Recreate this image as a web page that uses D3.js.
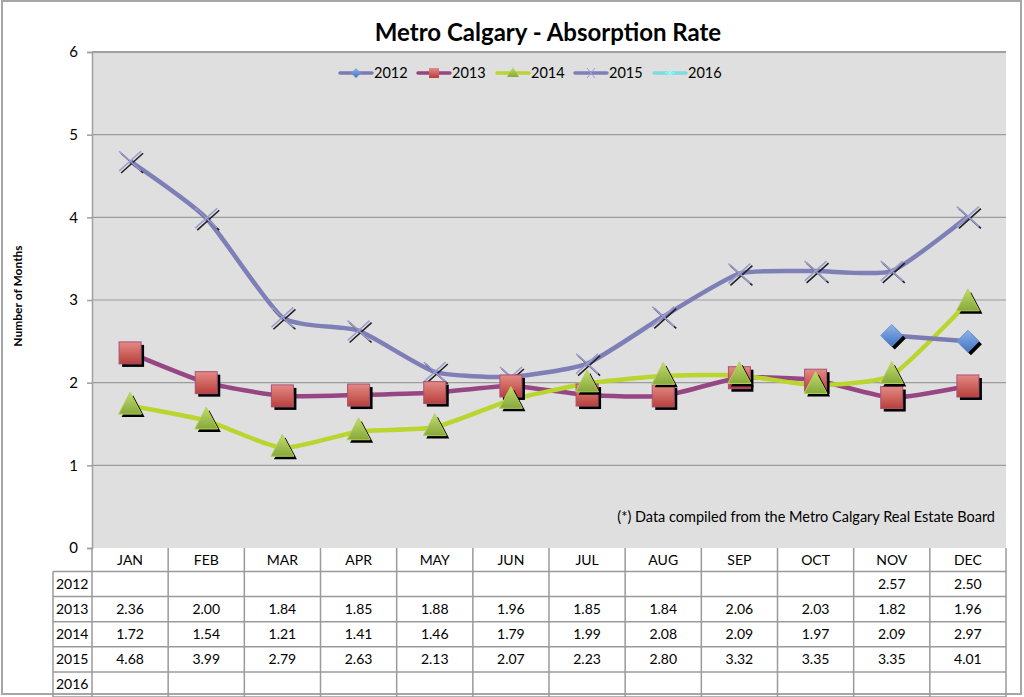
<!DOCTYPE html>
<html><head><meta charset="utf-8">
<script src="https://cdn.jsdelivr.net/npm/d3@7"></script>
<style>body{margin:0;background:#fff;} svg{display:block;font-family:Lato,"Open Sans",sans-serif;}</style>
</head><body>
<svg id="c" width="1024" height="697"></svg>
<script>
const months = ["JAN","FEB","MAR","APR","MAY","JUN","JUL","AUG","SEP","OCT","NOV","DEC"];
const years = ["2012","2013","2014","2015","2016"];
const v2012 = [null,null,null,null,null,null,null,null,null,null,2.57,2.50];
const v2013 = [2.36,2.00,1.84,1.85,1.88,1.96,1.85,1.84,2.06,2.03,1.82,1.96];
const v2014 = [1.72,1.54,1.21,1.41,1.46,1.79,1.99,2.08,2.09,1.97,2.09,2.97];
const v2015 = [4.68,3.99,2.79,2.63,2.13,2.07,2.23,2.80,3.32,3.35,3.35,4.01];
const v2016 = [null,null,null,null,null,null,null,null,null,null,null,null];
const yTicks = [0,1,2,3,4,5,6];
const title = "Metro Calgary - Absorption Rate";
const yLabel = "Number of Months";
const note = "(*) Data compiled from the Metro Calgary Real Estate Board";

const series = [
  {name:"2012", values:v2012, line:"#7b7bb3", marker:"diamond", fill:["#8fb4e8","#3f74c4"]},
  {name:"2013", values:v2013, line:"#964683", marker:"square", fill:["#e48a85","#b8403a"]},
  {name:"2014", values:v2014, line:"#b9d52e", marker:"triangle", fill:["#c2dc6c","#86a83c"]},
  {name:"2015", values:v2015, line:"#7f7fb8", marker:"x", fill:["#9a9ad0","#7f7fb8"]},
  {name:"2016", values:v2016, line:"#7fdcdc", marker:"star", fill:["#a0f0f0","#7fdcdc"]}
];

const svg = d3.select("#c");
const L = 92, R = 1006, T = 52, B = 548;
const x = d3.scaleBand().domain(months).range([L,R]);
const y = d3.scaleLinear().domain([0,6]).range([B,T]);

const defs = svg.append("defs");
series.forEach((s,i)=>{
  const g = defs.append("linearGradient").attr("id","g"+i).attr("x1",0).attr("y1",0).attr("x2",0).attr("y2",1);
  g.append("stop").attr("offset","0%").attr("stop-color",s.fill[0]);
  g.append("stop").attr("offset","100%").attr("stop-color",s.fill[1]);
});

// outer border
svg.append("rect").attr("x",2).attr("y",1).attr("width",1019).attr("height",693)
  .attr("fill","#fff").attr("stroke","#a6a6a6").attr("stroke-width",2);

// title
svg.append("text").attr("x",548).attr("y",41).attr("text-anchor","middle")
  .attr("font-size",24).attr("font-weight","bold").attr("fill","#000").text(title);

// plot background
svg.append("rect").attr("x",L).attr("y",T).attr("width",R-L).attr("height",B-T).attr("fill","#dfdfdf");

// gridlines
svg.append("g").selectAll("line").data(yTicks.filter(d=>d>0)).join("line")
  .attr("x1",L).attr("x2",R).attr("y1",d=>y(d)).attr("y2",d=>y(d))
  .attr("stroke",d=>d===6?"#a0a0a0":"#9c9c9c").attr("stroke-width",d=>d===6?2:1.2);

// y axis
const ya = svg.append("g").attr("transform",`translate(${L},0)`)
  .call(d3.axisLeft(y).tickValues(yTicks).tickSize(5).tickPadding(9).tickFormat(d3.format("d")));
ya.select(".domain").attr("stroke","#a0a0a0").attr("stroke-width",1.5);
ya.selectAll(".tick line").attr("stroke","#a0a0a0").attr("stroke-width",1.5);
ya.selectAll("text").attr("font-size",15).attr("fill","#000").attr("font-family","Lato,sans-serif");

svg.append("text").attr("transform","translate(22,296) rotate(-90)").attr("text-anchor","middle")
  .attr("font-size",12).attr("font-weight","bold").text(yLabel);

// note
svg.append("text").attr("x",995).attr("y",522).attr("text-anchor","end").attr("font-size",14.5).text(note);

// table
const rowH = 25.1, headTop = B, headH = 23.5;
const tg = svg.append("g");
const tableBottom = headTop + headH + rowH*years.length;
months.concat(["_end"]).forEach((m,i)=>{
  const xx = i<12 ? x(m) : R;
  tg.append("line").attr("x1",xx).attr("x2",xx).attr("y1",headTop).attr("y2",tableBottom)
    .attr("stroke","#9a9a9a").attr("stroke-width",1.5);
});
tg.append("line").attr("x1",53).attr("x2",53).attr("y1",headTop+headH).attr("y2",tableBottom).attr("stroke","#9a9a9a").attr("stroke-width",1.5);
for(let r=0;r<=years.length;r++){
  const yy = headTop+headH+r*rowH;
  tg.append("line").attr("x1",53).attr("x2",R).attr("y1",yy).attr("y2",yy).attr("stroke","#9a9a9a").attr("stroke-width",1.5);
}
tg.selectAll("text.m").data(months).join("text").attr("class","m")
  .attr("x",d=>x(d)+x.bandwidth()/2).attr("y",headTop+headH/2+5).attr("text-anchor","middle")
  .attr("font-size",14).text(d=>d);
series.forEach((s,r)=>{
  const yy = headTop+headH+r*rowH+rowH/2+5;
  tg.append("text").attr("x",56).attr("y",yy).attr("font-size",14).text(s.name);
  tg.selectAll(null).data(s.values.map((v,i)=>({v,m:months[i]})).filter(d=>d.v!=null)).join("text")
    .attr("x",d=>x(d.m)+x.bandwidth()/2).attr("y",yy).attr("text-anchor","middle").attr("font-size",14)
    .text(d=>d.v.toFixed(2));
});

// lines
const line = d3.line().defined(d=>d.v!=null).x(d=>x(d.m)+x.bandwidth()/2).y(d=>y(d.v)).curve(d3.curveCardinal.tension(0.45));
function drawMarker(g, type, cx, cy, i, size){
  const s = size;
  if(type==="square"){
    g.append("rect").attr("x",cx-s/2+3).attr("y",cy-s/2+3).attr("width",s).attr("height",s).attr("fill","#000");
    g.append("rect").attr("x",cx-s/2).attr("y",cy-s/2).attr("width",s).attr("height",s).attr("fill",`url(#g${i})`).attr("stroke","#a8507a").attr("stroke-width",1);
  } else if(type==="diamond"){
    const p = (dx,dy)=>`M${cx+dx},${cy-s/2+dy}L${cx+s/2+dx},${cy+dy}L${cx+dx},${cy+s/2+dy}L${cx-s/2+dx},${cy+dy}Z`;
    g.append("path").attr("d",p(3,3)).attr("fill","#000");
    g.append("path").attr("d",p(0,0)).attr("fill",`url(#g${i})`).attr("stroke","#6a8fd0").attr("stroke-width",1);
  } else if(type==="triangle"){
    const h = s*0.95;
    const p = (dx,dy)=>`M${cx+dx},${cy-h*0.62+dy}L${cx+s/2+dx},${cy+h*0.38+dy}L${cx-s/2+dx},${cy+h*0.38+dy}Z`;
    g.append("path").attr("d",p(3,3)).attr("fill","#000");
    g.append("path").attr("d",p(0,0)).attr("fill",`url(#g${i})`).attr("stroke","#b5cf5a").attr("stroke-width",1);
  } else if(type==="x"){
    const r = s/2;
    const p = (dx,dy)=>`M${cx-r+dx},${cy-r*0.9+dy}L${cx+r+dx},${cy+r*0.9+dy}M${cx-r+dx},${cy+r*0.9+dy}L${cx+r+dx},${cy-r*0.9+dy}`;
    g.append("path").attr("d",p(2,2)).attr("stroke","#222").attr("stroke-width",1.6).attr("fill","none");
    g.append("path").attr("d",p(0,0)).attr("stroke","#9c9cd0").attr("stroke-width",1.6).attr("fill","none");
  } else if(type==="star"){
    const r = s/2;
    g.append("path").attr("d",`M${cx-r},${cy}L${cx+r},${cy}M${cx},${cy-r}L${cx},${cy+r}M${cx-r*0.7},${cy-r*0.7}L${cx+r*0.7},${cy+r*0.7}M${cx-r*0.7},${cy+r*0.7}L${cx+r*0.7},${cy-r*0.7}`)
      .attr("stroke","#9ff0f0").attr("stroke-width",1.2);
  }
}
const order = [3,1,2,0,4];
order.forEach(i=>{
  const s = series[i];
  const pts = s.values.map((v,k)=>({v,m:months[k]}));
  svg.append("path").datum(pts).attr("d",line).attr("fill","none").attr("stroke",s.line).attr("stroke-width",4.5).attr("stroke-linejoin","round");
});
order.forEach(i=>{
  const s = series[i];
  const g = svg.append("g");
  s.values.forEach((v,k)=>{
    if(v==null) return;
    drawMarker(g, s.marker, x(months[k])+x.bandwidth()/2, y(v), i, s.marker==="triangle"?23:22);
  });
});

// legend
const legX = [340,418,497,575,654];
series.forEach((s,i)=>{
  const g = svg.append("g");
  const lx = legX[i], ly = 73;
  g.append("line").attr("x1",lx).attr("x2",lx+32).attr("y1",ly).attr("y2",ly).attr("stroke",s.line).attr("stroke-width",3.5).attr("stroke-linecap","round");
  const cx = lx+16;
  if(s.marker==="diamond"){
    g.append("path").attr("d",`M${cx},${ly-5}L${cx+5},${ly}L${cx},${ly+5}L${cx-5},${ly}Z`).attr("fill",`url(#g${i})`);
  } else if(s.marker==="square"){
    g.append("rect").attr("x",cx-5).attr("y",ly-5).attr("width",10).attr("height",10).attr("fill",`url(#g${i})`);
  } else if(s.marker==="triangle"){
    g.append("path").attr("d",`M${cx},${ly-6}L${cx+6},${ly+4}L${cx-6},${ly+4}Z`).attr("fill",`url(#g${i})`);
  } else if(s.marker==="x"){
    g.append("path").attr("d",`M${cx-4},${ly-5}L${cx+4},${ly+5}M${cx-4},${ly+5}L${cx+4},${ly-5}`).attr("stroke","#9c9cd0").attr("stroke-width",1);
  } else {
    g.append("path").attr("d",`M${cx-5},${ly}L${cx+5},${ly}M${cx},${ly-5}L${cx},${ly+5}M${cx-4},${ly-4}L${cx+4},${ly+4}M${cx-4},${ly+4}L${cx+4},${ly-4}`).attr("stroke","#a8f4f4").attr("stroke-width",1);
  }
  g.append("text").attr("x",lx+34).attr("y",ly+5).attr("font-size",14.5).text(s.name);
});
</script>
</body></html>
